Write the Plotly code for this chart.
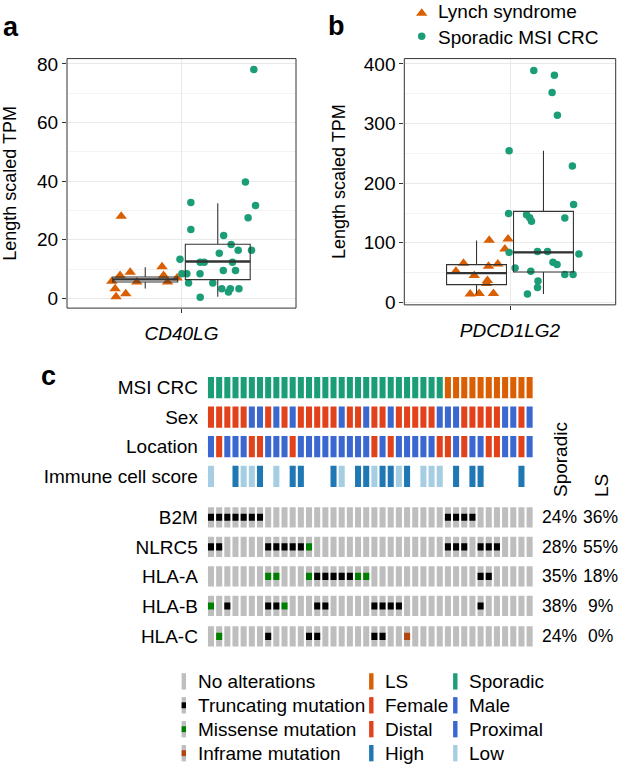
import plotly.graph_objects as go

W, H = 626, 771
FONT = "Liberation Sans, Arial, Helvetica, sans-serif"

# ------------------------------------------------------------------
# Data
# ------------------------------------------------------------------
groups = ["Lynch syndrome", "Sporadic MSI CRC"]
genes_expr = ["CD40LG", "PDCD1LG2"]

# Panel a : CD40LG  (values + horizontal jitter)
cd40lg_ls = [28.0, 7.8, 8.9, 5.9, 3.3, 0.6, 1.6, 5.6, 10.8, 7.8, 5.6, 7.0]
cd40lg_ls_jitter = [-0.126, -0.132, -0.079, -0.175, -0.158, -0.153, -0.102, -0.044,
                    0.088, 0.096, 0.117, 0.167]
cd40lg_sp = [78.1, 39.7, 31.7, 27.5, 32.7, 23.5, 21.5, 18.4, 16.4, 16.4, 15.4, 13.4,
             12.3, 12.3, 12.3, 8.4, 8.4, 8.4, 9.5, 9.5, 5.3, 5.3, 3.3, 2.2, 3.3, 3.3, 0.4]
cd40lg_sp_jitter = [0.189, 0.145, 0.198, 0.159, -0.141, -0.141, 0.031, 0.070, 0.107,
                    0.177, 0.008, -0.198, -0.092, -0.071, 0.077, -0.188, -0.162, -0.093,
                    0.029, 0.093, -0.153, -0.026, 0.021, 0.056, 0.066, 0.111, -0.092]
# box statistics  [LS, Sporadic]
cd40lg_q1 = [5.6, 6.4]
cd40lg_med = [6.5, 12.6]
cd40lg_q3 = [7.3, 18.5]
cd40lg_lo = [3.4, 0.6]
cd40lg_hi = [10.6, 32.5]

# Panel b : PDCD1LG2
pdcd_ls = [104.3, 106.5, 89.5, 65.7, 52.5, 60.8, 64.7, 45.4, 37.0, 31.7, 14.0, 15.2, 15.2]
pdcd_ls_jitter = [0.072, 0.179, 0.161, -0.074, -0.117, 0.068, 0.121, -0.013, 0.062,
                  0.057, -0.036, 0.015, 0.096]
pdcd_sp = [389, 381, 352, 314, 254.6, 228.7, 164.3, 149, 147, 142, 136, 141.7, 85.5,
           85.5, 84, 81.2, 58, 52.5, 67.4, 63.6, 47, 47, 36, 25, 14]
pdcd_sp_jitter = [-0.055, 0.062, 0.049, 0.079, -0.195, 0.164, 0.171, -0.198, -0.096,
                  -0.078, -0.068, 0.121, -0.034, 0.023, -0.195, 0.201, -0.161, -0.072,
                  0.054, 0.077, 0.121, 0.168, -0.031, -0.034, -0.091]
pdcd_q1 = [30, 51]
pdcd_med = [49.2, 84]
pdcd_q3 = [63.5, 152.7]
pdcd_lo = [14, 14]
pdcd_hi = [104, 254.6]

# Panel c : oncoprint, 29 sporadic + 11 LS samples
msi_crc = ["Sporadic"] * 29 + ["LS"] * 11
sex = list("FFFFFMMFMFMFFFFFMFFM" + "FFMFFFFFMMMFFFFFMMFM")           # F female, M male
location = list("PDPPPDDPPPDPPPPPPPPP" + "DPDPPPPPDDPDPPDDPPDP")      # D distal, P proximal
immune = list("L..HLLH.L.HH...HL.HH" + "LHHLH.LLL.H.HH....H.")        # H high, L low, . none
mut_genes = ["B2M", "NLRC5", "HLA-A", "HLA-B", "HLA-C"]
mut_calls = [  # T truncating, M missense, I inframe, . none
    "TTTTTTT......................TTTT.......",
    "TT.....TTTTTM................TTT.TTT....",
    ".......MM...MTTTTTMM.............TT.....",
    "M.T....TTM...TT.....TTTT.........T......",
    ".M.....T....TT......TT..I...............",
]
pct_sporadic = ["24%", "28%", "35%", "38%", "24%"]
pct_ls = ["36%", "55%", "18%", "9%", "0%"]
anno_rows = ["MSI CRC", "Sex", "Location", "Immune cell score"]

# ------------------------------------------------------------------
# Styles
# ------------------------------------------------------------------
LS_COL = "#d95f02"
SP_COL = "#1b9e77"
RED = "#e2421b"
BLUE = "#3a67d0"
HIGH = "#1f78b4"
LOW = "#a6cee3"
GRAY = "#bebebe"
TRUNC = "#000000"
MISS = "#008000"
INFR = "#b5450f"
BOXC = "#333333"
GRID = "#e9e9e9"
GRID_MINOR = "#f3f3f3"

anno_colors = {
    "MSI CRC": {"Sporadic": SP_COL, "LS": LS_COL},
    "Sex": {"F": RED, "M": BLUE},
    "Location": {"D": RED, "P": BLUE},
    "Immune cell score": {"H": HIGH, "L": LOW},
}
anno_values = {"MSI CRC": msi_crc, "Sex": sex, "Location": location, "Immune cell score": immune}
mut_colors = {"T": TRUNC, "M": MISS, "I": INFR}

DODGE = 0.19
BOXW = 0.34

fig = go.Figure()


def add_panel(xa, ya, ls_vals, ls_jit, sp_vals, sp_jit, q1, med, q3, lo, hi):
    fig.add_trace(go.Scatter(
        x=[1 - DODGE + j for j in ls_jit], y=ls_vals, mode="markers",
        marker=dict(symbol="triangle-up", size=10, color=LS_COL, line=dict(width=0)),
        xaxis=xa, yaxis=ya, showlegend=False, hoverinfo="skip"))
    fig.add_trace(go.Scatter(
        x=[1 + DODGE + j for j in sp_jit], y=sp_vals, mode="markers",
        marker=dict(symbol="circle", size=7.5, color=SP_COL, line=dict(width=0)),
        xaxis=xa, yaxis=ya, showlegend=False, hoverinfo="skip"))
    for k, pos in enumerate([1 - DODGE, 1 + DODGE]):
        fig.add_trace(go.Box(
            x=[pos], q1=[q1[k]], median=[med[k]], q3=[q3[k]],
            lowerfence=[lo[k]], upperfence=[hi[k]], width=BOXW,
            boxpoints=False, whiskerwidth=0,
            line=dict(color=BOXC, width=1.1), fillcolor="rgba(0,0,0,0)",
            xaxis=xa, yaxis=ya, showlegend=False, hoverinfo="skip", zorder=2))
        fig.add_trace(go.Scatter(
            x=[pos - BOXW / 2, pos + BOXW / 2], y=[med[k], med[k]], mode="lines",
            line=dict(color=BOXC, width=2.4), xaxis=xa, yaxis=ya,
            showlegend=False, hoverinfo="skip", zorder=3))


add_panel("x", "y", cd40lg_ls, cd40lg_ls_jitter, cd40lg_sp, cd40lg_sp_jitter,
          cd40lg_q1, cd40lg_med, cd40lg_q3, cd40lg_lo, cd40lg_hi)
add_panel("x2", "y2", pdcd_ls, pdcd_ls_jitter, pdcd_sp, pdcd_sp_jitter,
          pdcd_q1, pdcd_med, pdcd_q3, pdcd_lo, pdcd_hi)

# ---------------- oncoprint ----------------
BAR_W = 0.74
row_pos = {"MSI CRC": 0, "Sex": 1, "Location": 2, "Immune cell score": 3,
           "B2M": 4.39, "NLRC5": 5.39, "HLA-A": 6.39, "HLA-B": 7.39, "HLA-C": 8.42}


def add_bars(cols, yc, h, color):
    if not cols:
        return
    fig.add_trace(go.Bar(
        x=cols, y=[h] * len(cols), base=[yc - h / 2] * len(cols), width=BAR_W,
        marker=dict(color=color, line=dict(width=0)),
        xaxis="x3", yaxis="y3", showlegend=False, hoverinfo="skip"))


for r in anno_rows:
    vals = anno_values[r]
    for key, col in anno_colors[r].items():
        add_bars([i for i, v in enumerate(vals) if v == key], row_pos[r], 0.72, col)

for g, calls in zip(mut_genes, mut_calls):
    add_bars(list(range(len(calls))), row_pos[g], 0.69, GRAY)
    for key, col in mut_colors.items():
        add_bars([i for i, v in enumerate(calls) if v == key], row_pos[g], 0.24, col)

annotations = []
for g, ps, pl in zip(mut_genes, pct_sporadic, pct_ls):
    annotations.append(dict(x=559.7 / W, y=row_pos[g], xref="paper", yref="y3", text=ps,
                            showarrow=False, xanchor="center", yanchor="middle",
                            font=dict(size=17.5, color="black", family=FONT)))
    annotations.append(dict(x=600.5 / W, y=row_pos[g], xref="paper", yref="y3", text=pl,
                            showarrow=False, xanchor="center", yanchor="middle",
                            font=dict(size=17.5, color="black", family=FONT)))

for txt, xp in [("Sporadic", 560), ("LS", 601)]:
    annotations.append(dict(x=xp, y=503, xref="x4", yref="y4", text=txt, textangle=-90,
                            showarrow=False, xanchor="center", yanchor="bottom",
                            font=dict(size=19, color="black", family=FONT)))

# panel letters
for txt, xp, yp in [("a", 0.5, 22.5), ("b", 326, 21.5), ("c", 39, 377.5)]:
    annotations.append(dict(x=xp, y=yp, xref="x4", yref="y4", text="<b>%s</b>" % txt,
                            showarrow=False, xanchor="left", yanchor="middle",
                            font=dict(size=27, color="black", family=FONT)))

# top legend (panel b)
fig.add_trace(go.Scatter(x=[421.7], y=[8.5], mode="markers",
                         marker=dict(symbol="triangle-up", size=10, color=LS_COL),
                         xaxis="x4", yaxis="y4", showlegend=False, hoverinfo="skip"))
fig.add_trace(go.Scatter(x=[421.7], y=[31.7], mode="markers",
                         marker=dict(symbol="circle", size=7.5, color=SP_COL),
                         xaxis="x4", yaxis="y4", showlegend=False, hoverinfo="skip"))
for txt, yp in [(groups[0], 7.0), (groups[1], 32.6)]:
    annotations.append(dict(x=436, y=yp, xref="x4", yref="y4", text=txt, showarrow=False,
                            xanchor="left", yanchor="middle",
                            font=dict(size=19, color="black", family=FONT)))

# bottom legend
shapes = []
leg_rows_y = [688, 712.3, 736.6, 761]
leg_cols = [
    (183.8, 196, [("No alterations", None), ("Truncating mutation", TRUNC),
                  ("Missense mutation", MISS), ("Inframe mutation", INFR)], True),
    (371.3, 382.7, [("LS", LS_COL), ("Female", RED), ("Distal", RED), ("High", HIGH)], False),
    (455.3, 466.7, [("Sporadic", SP_COL), ("Male", BLUE), ("Proximal", BLUE), ("Low", LOW)], False),
]
for kx, tx, items, is_mut in leg_cols:
    for (label, col), yc in zip(items, leg_rows_y):
        if is_mut:
            shapes.append(dict(type="rect", xref="x4", yref="y4", x0=kx - 2.2, x1=kx + 2.2,
                               y0=yc - 8.3, y1=yc + 8.3, fillcolor=GRAY, line=dict(width=0)))
            if col is not None:
                shapes.append(dict(type="rect", xref="x4", yref="y4", x0=kx - 2.2, x1=kx + 2.2,
                                   y0=yc - 3, y1=yc + 3, fillcolor=col, line=dict(width=0)))
        else:
            shapes.append(dict(type="rect", xref="x4", yref="y4", x0=kx - 2.2, x1=kx + 2.2,
                               y0=yc - 8.3, y1=yc + 8.3, fillcolor=col, line=dict(width=0)))
        annotations.append(dict(x=tx, y=yc, xref="x4", yref="y4", text=label, showarrow=False,
                                xanchor="left", yanchor="middle",
                                font=dict(size=19, color="black", family=FONT)))

# panel frames (theme_bw style border)
for xr, yr in [("x", "y"), ("x2", "y2")]:
    shapes.append(dict(type="rect", xref="%s domain" % xr, yref="%s domain" % yr,
                       x0=0, x1=1, y0=0, y1=1, line=dict(color=BOXC, width=1),
                       fillcolor="rgba(0,0,0,0)", layer="above"))

# ------------------------------------------------------------------
# Layout
# ------------------------------------------------------------------
def fx(px):
    return px / W


def fy(py):
    return 1 - py / H


xa_common = dict(range=[0.4, 1.6], tickvals=[1], showgrid=True, gridcolor=GRID, gridwidth=1.2,
                 ticks="outside", ticklen=4, tickcolor=BOXC, showline=False,
                 zeroline=False, ticklabelstandoff=4,
                 tickfont=dict(size=19, color="black", family=FONT))
ya_common = dict(showgrid=True, gridcolor=GRID, gridwidth=1.2, ticks="outside", ticklen=4,
                 tickcolor=BOXC, showline=False,
                 zeroline=False, tickfont=dict(size=19, color="black", family=FONT))

fig.update_layout(
    width=W, height=H, margin=dict(l=0, r=0, t=0, b=0),
    paper_bgcolor="white", plot_bgcolor="rgba(0,0,0,0)",
    font=dict(family=FONT, color="black"),
    barmode="overlay", boxmode="overlay",
    xaxis=dict(domain=[fx(67), fx(296)], anchor="y", ticktext=["<i>%s</i>" % genes_expr[0]],
               **xa_common),
    yaxis=dict(domain=[fy(308.3), fy(54.5)], anchor="x", range=[-3.3, 81.8],
               tickvals=[0, 20, 40, 60, 80],
               minor=dict(tickvals=[10, 30, 50, 70], showgrid=True, gridcolor=GRID_MINOR,
                          gridwidth=0.8, ticks=""),
               title=dict(text="Length scaled TPM", standoff=17,
                          font=dict(size=18, color="black", family=FONT)),
               **ya_common),
    xaxis2=dict(domain=[fx(404.3), fx(615.7)], anchor="y2", ticktext=["<i>%s</i>" % genes_expr[1]],
                **xa_common),
    yaxis2=dict(domain=[fy(305), fy(54.5)], anchor="x2", range=[-4, 409],
                tickvals=[0, 100, 200, 300, 400],
                minor=dict(tickvals=[50, 150, 250, 350], showgrid=True, gridcolor=GRID_MINOR,
                           gridwidth=0.8, ticks=""),
                title=dict(text="Length scaled TPM", standoff=13,
                           font=dict(size=18, color="black", family=FONT)),
                **ya_common),
    xaxis3=dict(domain=[fx(206.9), fx(533.7)], anchor="y3", range=[-0.5, 39.5], visible=False),
    yaxis3=dict(domain=[fy(656.6), fy(374.2)], anchor="x3", range=[8.9, -0.5],
                tickvals=[row_pos[r] for r in anno_rows + mut_genes],
                ticktext=anno_rows + mut_genes, showgrid=False, zeroline=False,
                showline=False, ticks="", ticklabelstandoff=8,
                tickfont=dict(size=19, color="black", family=FONT)),
    xaxis4=dict(domain=[0, 1], anchor="y4", range=[0, W], visible=False),
    yaxis4=dict(domain=[0, 1], anchor="x4", range=[H, 0], visible=False),
    annotations=annotations,
    shapes=shapes,
)

fig.write_html("out.html")
